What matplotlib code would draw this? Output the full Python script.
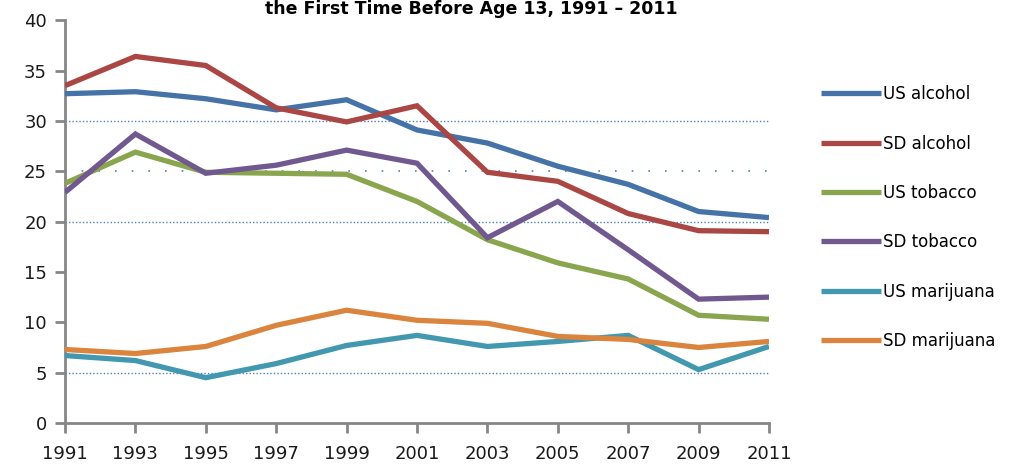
import matplotlib.pyplot as plt

years = [1991, 1993, 1995, 1997, 1999, 2001, 2003, 2005, 2007, 2009, 2011]
us_alcohol = [32.7, 32.9, 32.2, 31.1, 32.1, 29.1, 27.8, 25.5, 23.7, 21.0, 20.4]
sd_alcohol = [33.5, 36.4, 35.5, 31.3, 29.9, 31.5, 24.9, 24.0, 20.8, 19.1, 19.0]
us_tobacco = [23.8, 26.9, 24.9, 24.8, 24.7, 22.0, 18.2, 15.9, 14.3, 10.7, 10.3]
sd_tobacco = [22.9, 28.7, 24.8, 25.6, 27.1, 25.8, 18.4, 22.0, 17.2, 12.3, 12.5]
us_marijuana = [6.7, 6.2, 4.5, 5.9, 7.7, 8.7, 7.6, 8.1, 8.7, 5.3, 7.6]
sd_marijuana = [7.3, 6.9, 7.6, 9.7, 11.2, 10.2, 9.9, 8.6, 8.3, 7.5, 8.1]

series = [
    ("US alcohol", us_alcohol, "#4572A7"),
    ("SD alcohol", sd_alcohol, "#AA4643"),
    ("US tobacco", us_tobacco, "#89A54E"),
    ("SD tobacco", sd_tobacco, "#71588F"),
    ("US marijuana", us_marijuana, "#4198AF"),
    ("SD marijuana", sd_marijuana, "#DB843D"),
]

fig = plt.figure(figsize=(10.13, 4.70), dpi=100)
ax = fig.add_axes([65 / 1013, 0.1, (769 - 65) / 1013, 0.857])

# gridlines as in the source: dense dots at 5, 20, 30, sparse at 25
for v in [5, 20, 30]:
    ax.axhline(v, color="#4F81BD", lw=1, ls=(0, (1, 1.5)), zorder=1)
ax.axhline(25, color="#4F81BD", lw=1.2, ls=(0, (1, 9)), zorder=1)

for name, vals, col in series:
    ax.plot(years, vals, color=col, lw=3.8, label=name, zorder=3,
            solid_capstyle="butt", solid_joinstyle="miter")

ax.set_xlim(1991, 2011)
ax.set_ylim(0, 40)
ax.set_xticks(years)
ax.set_yticks(range(0, 41, 5))

for s in ["top", "right"]:
    ax.spines[s].set_visible(False)
for s in ["left", "bottom"]:
    ax.spines[s].set_color("#868686")
    ax.spines[s].set_linewidth(2)
ax.tick_params(axis="both", color="#868686", width=2, length=7, labelsize=13,
               labelcolor="#1a1a1a")
ax.tick_params(axis="x", pad=9)
ax.tick_params(axis="y", pad=6)

leg = ax.legend(loc="upper left", bbox_to_anchor=(1.065, 0.855), frameon=False,
                fontsize=12, labelspacing=1.88, handlelength=3.6,
                handletextpad=0.1, borderaxespad=0)
for h in leg.get_lines():
    h.set_linewidth(3.8)

fig.text(0.465, 1.0, "the First Time Before Age 13, 1991 \u2013 2011",
         ha="center", va="top", fontsize=12.5, fontweight="bold")

fig.savefig("out.png", dpi=100)
